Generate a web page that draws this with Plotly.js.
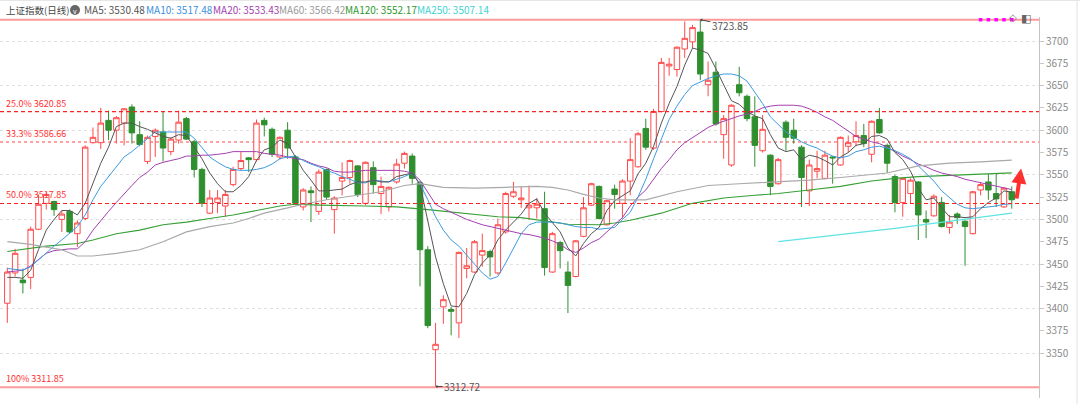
<!DOCTYPE html>
<html><head><meta charset="utf-8">
<script src="https://cdn.plot.ly/plotly-3.0.1.min.js"></script>
<style>html,body{margin:0;padding:0;background:#fff;}#chart{width:1080px;height:404px;}</style>
</head><body><div id="chart"></div>
<script>
// ---- candle data (index 0..129) ----
const openP = [3406,3440,3432,3435,3489,3518,3520,3500,3509,3484,
 3501,3586,3586,3611,3600,3608,3626,3595,3565,3593,
 3598,3576,3589,3613,3587,3556,3507,3519,3515,3539,
 3557,3569,3567,3611,3601,3570,3600,3570,3514,3532,
 3509,3556,3511,3543,3547,3560,3518,3558,3529,3514,
 3542,3563,3571,3541,3466,3354,3402,3399,3384,3445,
 3441,3460,3464,3440,3486,3526,3522,3513,3513,3512,
 3441,3474,3441,3436,3481,3516,3537,3494,3534,3518,
 3543,3559,3602,3580,3621,3672,3668,3691,3699,3710,
 3651,3665,3595,3561,3651,3638,3615,3577,3572,3540,
 3609,3600,3581,3532,3554,3546,3570,3561,3582,3587,
 3594,3573,3612,3583,3548,3519,3529,3542,3500,3504,
 3519,3491,3506,3498,3484,3533,3542,3529,3514,3531];
const highP = [3446,3467,3445,3492,3528,3530,3521,3510,3511,3499,
 3583,3603,3625,3622,3616,3625,3629,3610,3594,3602,
 3621,3592,3622,3615,3589,3558,3533,3533,3533,3559,
 3576,3570,3612,3614,3603,3593,3609,3572,3535,3537,
 3556,3557,3526,3564,3567,3561,3565,3565,3548,3537,
 3568,3576,3574,3543,3470,3384,3415,3402,3464,3468,
 3477,3484,3466,3501,3531,3542,3537,3538,3524,3531,
 3486,3476,3453,3477,3525,3541,3538,3522,3539,3545,
 3591,3598,3613,3624,3681,3681,3694,3722,3718,3723.85,
 3677,3677,3617,3629,3671,3640,3638,3617,3573,3569,
 3611,3613,3583,3567,3577,3577,3571,3593,3594,3610,
 3607,3611,3625,3585,3550,3547,3546,3543,3510,3528,
 3525,3505,3508,3499,3532,3542,3551,3551,3536,3537];
const lowP = [3384,3436,3417,3422,3488,3511,3504,3486,3484,3469,
 3499,3585,3579,3589,3585,3583,3585,3582,3562,3570,
 3565,3572,3585,3589,3547,3514,3506,3507,3503,3537,
 3555,3553,3565,3593,3570,3567,3568,3516,3510,3497,
 3505,3522,3484,3527,3540,3525,3516,3529,3506,3509,
 3540,3557,3540,3425,3378,3312.72,3383,3370,3367,3434,
 3440,3447,3436,3438,3484,3524,3513,3500,3501,3437,
 3440,3445,3395,3435,3480,3515,3500,3493,3512,3501,
 3527,3558,3578,3578,3620,3661,3660,3681,3692,3656,
 3638,3605,3568,3559,3638,3610,3559,3575,3527,3539,
 3577,3585,3514,3515,3546,3545,3540,3560,3575,3582,
 3581,3564,3596,3552,3508,3503,3518,3477,3479,3503,
 3491,3484,3495,3448,3483,3527,3522,3514,3513,3512];
const closeP = [3441,3462,3429,3489,3517,3528,3511,3506,3486,3496,
 3581,3592,3608,3600,3614,3624,3597,3584,3592,3600,
 3580,3590,3609,3590,3556,3518,3524,3524,3528,3556,
 3566,3567,3608,3606,3573,3592,3580,3518,3533,3530,
 3553,3525,3524,3547,3566,3528,3564,3539,3537,3536,
 3562,3574,3546,3466,3381,3360,3410,3397,3463,3448,
 3475,3465,3458,3494,3529,3531,3524,3516,3517,3446,
 3484,3465,3426,3476,3513,3540,3501,3521,3528,3543,
 3567,3596,3581,3621,3676,3674,3693,3703,3715,3663,
 3656,3607,3613,3628,3642,3613,3583,3601,3537,3567,
 3592,3591,3547,3561,3557,3572,3569,3592,3586,3594,
 3585,3610,3597,3563,3519,3546,3544,3505,3497,3526,
 3492,3497,3502,3492,3531,3539,3533,3523,3535,3522];

// ---- moving averages ----
const ma5 = [3435,3435,3434,3443,3466,3488,3500,3510,3510,3505,
 3518,3541,3563,3581,3604,3608,3608,3604,3601,3597,
 3593,3591,3595,3594,3581,3568,3552,3540,3531,3531,
 3538,3548,3566,3578,3581,3589,3585,3570,3555,3544,
 3532,3532,3533,3534,3539,3542,3542,3544,3542,3542,
 3548,3550,3552,3539,3500,3458,3428,3403,3402,3417,
 3438,3451,3460,3477,3488,3497,3506,3518,3523,3507,
 3497,3486,3468,3459,3473,3484,3491,3510,3521,3527,
 3532,3551,3563,3582,3608,3630,3649,3673,3692,3690,
 3686,3669,3651,3633,3629,3621,3616,3613,3595,3580,
 3576,3578,3567,3572,3570,3566,3561,3570,3575,3583,
 3585,3593,3594,3590,3575,3567,3554,3535,3522,3524,
 3513,3503,3503,3502,3503,3512,3519,3524,3532,3530.48];
const ma10 = [3445,3444,3443,3447,3455,3462,3470,3477,3485,3492,
 3505,3522,3537,3548,3559,3570,3576,3583,3591,3598,
 3598,3598,3598,3598,3591,3580,3570,3564,3559,3556,
 3555,3555,3556,3558,3562,3568,3570,3571,3566,3562,
 3559,3555,3552,3548,3545,3541,3541,3544,3543,3542,
 3545,3548,3552,3540,3522,3503,3488,3477,3470,3460,
 3451,3440,3433,3436,3451,3468,3484,3494,3497,3497,
 3497,3496,3494,3492,3491,3491,3489,3490,3491,3500,
 3508,3525,3545,3568,3590,3612,3627,3640,3650,3654,
 3658,3661,3663,3663,3661,3655,3643,3630,3615,3606,
 3598,3592,3587,3583,3580,3575,3571,3569,3571,3576,
 3578,3581,3582,3580,3577,3573,3568,3560,3552,3543,
 3532,3524,3517,3513,3512,3513,3514,3515,3517,3517.48];
const ma20 = [3441,3442,3443,3448,3455,3462,3465,3466,3467,3467,
 3475,3488,3499,3509,3519,3529,3538,3547,3553,3561,
 3564,3566,3568,3571,3571,3572,3572,3573,3574,3576,
 3576,3576,3576,3574,3573,3572,3570,3568,3567,3563,
 3560,3558,3554,3553,3553,3554,3555,3555,3555,3555,
 3555,3554,3552,3544,3531,3517,3512,3508,3504,3500,
 3497,3494,3492,3490,3488,3486,3484,3483,3481,3479,
 3476,3472,3466,3463,3468,3474,3478,3486,3494,3502,
 3515,3525,3533,3545,3557,3567,3578,3586,3592,3597,
 3603,3607,3610,3613,3616,3618,3621,3625,3627,3628,
 3628,3628,3627,3624,3620,3615,3611,3605,3598,3593,
 3590,3587,3585,3581,3576,3571,3567,3562,3559,3555,
 3552,3550,3548,3545,3543,3541,3539,3537,3535,3533.43];
const ma60Idx = [0,3,5,7,9,11,14,17,20,23,26,29,31,33,36,38,41,45,48,51,53,56,60,64,68,70,72,74,76,78,82,86,90,94,99,103,107,113,117,121,125,129];
const ma60 = [3475,3472,3469,3466,3459,3459,3462,3466,3475,3486,3492,3496,3501,3507,3513,3517,3522,3527,3531,3538,3540,3536,3535,3536,3537,3536,3533,3528,3524,3522,3522,3531,3538,3540,3542,3544,3547,3552,3560,3563,3564.5,3566.42];
const ma120Idx = [0,5,9,11,14,17,20,23,26,29,32,35,37,40,46,50,54,59,63,66,69,72,76,78,80,84,88,92,96,99,103,107,111,114,117,122,129];
const ma120 = [3464,3470,3473,3477,3484,3488,3494,3497,3501,3505,3510,3515,3517,3516,3515,3514,3511,3507,3503,3502,3498,3494.5,3494,3496,3499,3507,3518,3524,3527,3529,3533,3537,3543,3546,3548,3550,3552.17];
const ma250Idx = [99,114,129];
const ma250 = [3475,3490,3507.14];

// ---- fibonacci levels & labels ----
const fibValues = [3723.85, 3620.85, 3586.66, 3517.85, 3311.85];
const fibPct = ['0.0%', '25.0%', '33.3%', '50.0%', '100%'];
const highPoint = {i: 89, v: 3723.85};
const lowPoint = {i: 55, v: 3312.72};
const signalIdx = [125,126,127,128,129];
const yTicks = [3350,3375,3400,3425,3450,3475,3500,3525,3550,3575,3600,3625,3650,3675,3700];
const legendNames = ['MA5','MA10','MA20','MA60','MA120','MA250'];
const legendValues = ['3530.48','3517.48','3533.43','3566.42','3552.17','3507.14'];

// ---- styling ----
const FONT = 'Noto Sans CJK SC, Noto Sans, sans-serif';
const colors = {ma5:'#555555', ma10:'#3d9be0', ma20:'#a43fb0', ma60:'#a9a9a9', ma120:'#36a036', ma250:'#5fe3e3'};
const legendColors = ['#555555','#3d8fe0','#a43fb0','#9a9a9a','#2e9a2e','#3fd3d3'];
const legendPx = [82,144,211,277,343,415];
const W = 1080, H = 404, ML = 0, MR = 41, MT = 17, MB = 6;
const PW = W-ML-MR, PH = H-MT-MB;
const px2x = p => (p-ML)/PW;
const py2y = p => (H-MB-p)/PH;

const idx = openP.map((_,k)=>k);

const traces = [
 {type:'candlestick', x:idx, open:openP, high:highP, low:lowP, close:closeP,
  increasing:{line:{color:'#ff4a4a',width:1}, fillcolor:'#ffffff'},
  decreasing:{line:{color:'#2f8f2f',width:1}, fillcolor:'#2f8f2f'},
  whiskerwidth:0, hoverinfo:'skip', showlegend:false},
 {type:'scatter', mode:'lines', x:ma60Idx, y:ma60, yaxis:'y2', line:{color:colors.ma60,width:1.2}, hoverinfo:'skip'},
 {type:'scatter', mode:'lines', x:ma120Idx, y:ma120, line:{color:colors.ma120,width:1.1}, hoverinfo:'skip'},
 {type:'scatter', mode:'lines', x:ma250Idx, y:ma250, line:{color:colors.ma250,width:1.2}, hoverinfo:'skip'},
 {type:'scatter', mode:'lines', x:idx, y:ma20, line:{color:colors.ma20,width:1}, hoverinfo:'skip'},
 {type:'scatter', mode:'lines', x:idx, y:ma10, line:{color:colors.ma10,width:1}, hoverinfo:'skip'},
 {type:'scatter', mode:'lines', x:idx, y:ma5, line:{color:colors.ma5,width:1}, hoverinfo:'skip'},
 {type:'scatter', mode:'markers', x:signalIdx, y:signalIdx.map(()=>fibValues[0]), marker:{symbol:'square',size:3.5,color:'#ff00ff'}, hoverinfo:'skip'}
];

const shapes = [];
fibValues.forEach((v,k)=>{
  let line, layer = 'below';
  if (k===0 || k===4) line = {color:'#ff9a9a', width:2};
  else if (k===2) line = {color:'rgba(255,70,70,0.5)', width:2, dash:'dot'};
  else { line = {color:'#ff2020', width:1.1, dash:'4px,3px'}; layer = 'above'; }
  shapes.push({type:'line', xref:'paper', x0:0, x1:1, yref:'y', y0:v, y1:v, line:line, layer:layer});
});
// legend dropdown icon
shapes.push({type:'circle', xref:'paper', yref:'paper', x0:px2x(70), x1:px2x(80), y0:py2y(15), y1:py2y(5), fillcolor:'#666', line:{width:0}});
// frame lines
shapes.push({type:'line', xref:'paper', yref:'paper', x0:px2x(1077), x1:px2x(1077), y0:py2y(404), y1:py2y(0), line:{color:'#e2e2e2', width:1}});
shapes.push({type:'line', xref:'paper', yref:'paper', x0:px2x(0), x1:px2x(1080), y0:py2y(0.5), y1:py2y(0.5), line:{color:'#e6e6e6', width:1}});

const annotations = [];
annotations.push({xref:'paper', yref:'paper', x:px2x(4), y:py2y(10), xanchor:'left', yanchor:'middle', text:'上证指数(日线)', showarrow:false, font:{family:FONT, size:9.5, color:'#444'}});
annotations.push({xref:'paper', yref:'paper', x:px2x(75), y:py2y(10.5), xanchor:'center', yanchor:'middle', text:'v', showarrow:false, font:{family:FONT, size:7, color:'#fff'}});
legendNames.forEach((n,k)=>{
  annotations.push({xref:'paper', yref:'paper', x:px2x(legendPx[k]), y:py2y(10), xanchor:'left', yanchor:'middle', text:n+': '+legendValues[k], showarrow:false, font:{family:FONT, size:10, color:legendColors[k]}});
});
[1,2,3,4].forEach(k=>{
  annotations.push({xref:'paper', yref:'y', x:px2x(4), y:fibValues[k], xanchor:'left', yanchor:'bottom', yshift:0, text:fibPct[k]+' '+fibValues[k].toFixed(2), showarrow:false, font:{family:FONT, size:9, color:'#ff3030'}});
});
annotations.push({x:highPoint.i, y:highPoint.v, xref:'x', yref:'y', text:highPoint.v.toFixed(2), showarrow:true, ax:30, ay:6, arrowhead:1, arrowsize:0.6, arrowwidth:1, arrowcolor:'#444', standoff:0, font:{family:FONT, size:10, color:'#555'}});
annotations.push({x:lowPoint.i, y:lowPoint.v, xref:'x', yref:'y', text:lowPoint.v.toFixed(2), showarrow:true, ax:27, ay:0, arrowhead:1, arrowsize:0.6, arrowwidth:1, arrowcolor:'#444', standoff:0, font:{family:FONT, size:10, color:'#555'}});
// trend arrow
annotations.push({x:130.2, y:3557, xref:'x', yref:'y', text:' ', showarrow:true, ax:-6, ay:40, arrowhead:2, arrowsize:0.75, arrowwidth:4, arrowcolor:'#ff3030', standoff:0});
// toolbar icons
annotations.push({xref:'paper', yref:'paper', x:px2x(1019), y:py2y(10), text:'◇', showarrow:false, font:{family:'DejaVu Sans', size:10, color:'#777'}});
annotations.push({xref:'paper', yref:'paper', x:px2x(1033), y:py2y(10), text:'◧', showarrow:false, font:{family:'DejaVu Sans', size:11, color:'#666'}});

const yRange = [3299.8, 3726.9];
const layout = {
  width:W, height:H, margin:{l:ML, r:MR, t:MT, b:MB},
  paper_bgcolor:'#ffffff', plot_bgcolor:'#ffffff', showlegend:false,
  boxgap:0.3, boxgroupgap:0,
  xaxis:{range:[-0.94,132.5], showgrid:false, zeroline:false, showticklabels:false, ticks:'', showline:false, rangeslider:{visible:false}, fixedrange:true},
  yaxis:{side:'right', range:yRange, autorange:false, tickmode:'array', tickvals:yTicks, ticktext:yTicks.map(String), ticks:'outside', ticklen:4, tickcolor:'#c8c8c8',
         showline:true, linecolor:'#c4c4c4', linewidth:1, showgrid:false, zeroline:false,
         tickfont:{family:FONT, size:10, color:'#8a8a8a'}, fixedrange:true},
  yaxis2:{overlaying:'y', side:'right', range:yRange, autorange:false, tickmode:'linear', tick0:3350, dtick:50, showgrid:true, gridcolor:'#e0e0e0', griddash:'dot', gridwidth:1,
         showticklabels:false, ticks:'', showline:false, zeroline:false, fixedrange:true},
  shapes:shapes, annotations:annotations
};
Plotly.newPlot('chart', traces, layout, {staticPlot:true, displayModeBar:false});
</script></body></html>
